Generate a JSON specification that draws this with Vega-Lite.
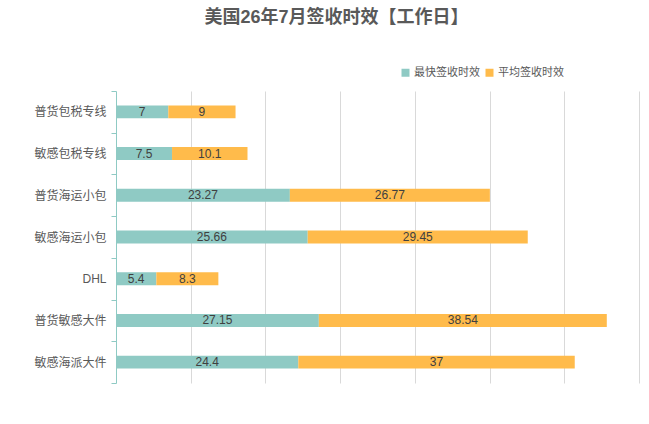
{
  "$schema": "https://vega.github.io/schema/vega-lite/v6.json",
  "autosize": {"type": "none"},
  "padding": {"left": 116, "top": 91, "right": 10, "bottom": 41},
  "width": 523,
  "height": 292,
  "background": "white",
  "view": {"stroke": null},
  "title": {
    "text": "美国26年7月签收时效【工作日】",
    "font": "Liberation Sans, Noto Sans CJK SC",
    "fontSize": 18,
    "fontWeight": "bold",
    "color": "#595959",
    "anchor": "middle",
    "frame": "group",
    "dx": -41,
    "offset": 40
  },
  "data": {
    "values": [
      {"line": "普货包税专线", "series": "最快签收时效", "days": 7},
      {"line": "普货包税专线", "series": "平均签收时效", "days": 9},
      {"line": "敏感包税专线", "series": "最快签收时效", "days": 7.5},
      {"line": "敏感包税专线", "series": "平均签收时效", "days": 10.1},
      {"line": "普货海运小包", "series": "最快签收时效", "days": 23.27},
      {"line": "普货海运小包", "series": "平均签收时效", "days": 26.77},
      {"line": "敏感海运小包", "series": "最快签收时效", "days": 25.66},
      {"line": "敏感海运小包", "series": "平均签收时效", "days": 29.45},
      {"line": "DHL", "series": "最快签收时效", "days": 5.4},
      {"line": "DHL", "series": "平均签收时效", "days": 8.3},
      {"line": "普货敏感大件", "series": "最快签收时效", "days": 27.15},
      {"line": "普货敏感大件", "series": "平均签收时效", "days": 38.54},
      {"line": "敏感海派大件", "series": "最快签收时效", "days": 24.4},
      {"line": "敏感海派大件", "series": "平均签收时效", "days": 37}
    ]
  },
  "transform": [
    {
      "stack": "days",
      "groupby": ["line"],
      "sort": [{"field": "series", "order": "descending"}],
      "as": ["start", "end"]
    }
  ],
  "encoding": {
    "y": {
      "field": "line",
      "type": "nominal",
      "sort": null,
      "title": null,
      "scale": {"paddingInner": 0, "paddingOuter": 0},
      "axis": {
        "tickBand": "extent",
        "domainColor": "#8fcac4",
        "tickColor": "#8fcac4",
        "tickSize": 5,
        "labelPadding": 5,
        "labelFont": "Liberation Sans, Noto Sans CJK SC",
        "labelFontSize": 12,
        "labelColor": "#595959",
        "grid": false
      }
    }
  },
  "layer": [
    {
      "mark": {"type": "bar", "height": {"band": 0.31}},
      "encoding": {
        "x": {
          "field": "start",
          "type": "quantitative",
          "title": null,
          "scale": {"domain": [0, 70], "nice": false},
          "axis": {
            "values": [10, 20, 30, 40, 50, 60, 70],
            "labels": false,
            "ticks": false,
            "domain": false,
            "grid": true,
            "gridColor": "#d9d9d9"
          }
        },
        "x2": {"field": "end"},
        "color": {
          "field": "series",
          "type": "nominal",
          "title": null,
          "scale": {
            "domain": ["最快签收时效", "平均签收时效"],
            "range": ["#8fcac4", "#ffbb4b"]
          },
          "legend": {
            "orient": "none",
            "legendX": 284,
            "legendY": -24,
            "direction": "horizontal",
            "symbolType": "square",
            "symbolSize": 64,
            "symbolStrokeWidth": 0,
            "labelFont": "Liberation Sans, Noto Sans CJK SC",
            "labelFontSize": 11,
            "labelColor": "#595959",
            "labelOffset": 3,
            "columnPadding": 4
          }
        }
      }
    },
    {
      "transform": [
        {"fold": ["start", "end"], "as": ["edge", "pos"]},
        {
          "aggregate": [{"op": "mean", "field": "pos", "as": "mid"}],
          "groupby": ["line", "series", "days"]
        }
      ],
      "mark": {
        "type": "text",
        "font": "Liberation Sans, Noto Sans CJK SC",
        "fontSize": 12,
        "color": "#404040",
        "align": "center",
        "baseline": "middle"
      },
      "encoding": {
        "x": {"field": "mid", "type": "quantitative"},
        "text": {"field": "days", "type": "quantitative"}
      }
    }
  ]
}
